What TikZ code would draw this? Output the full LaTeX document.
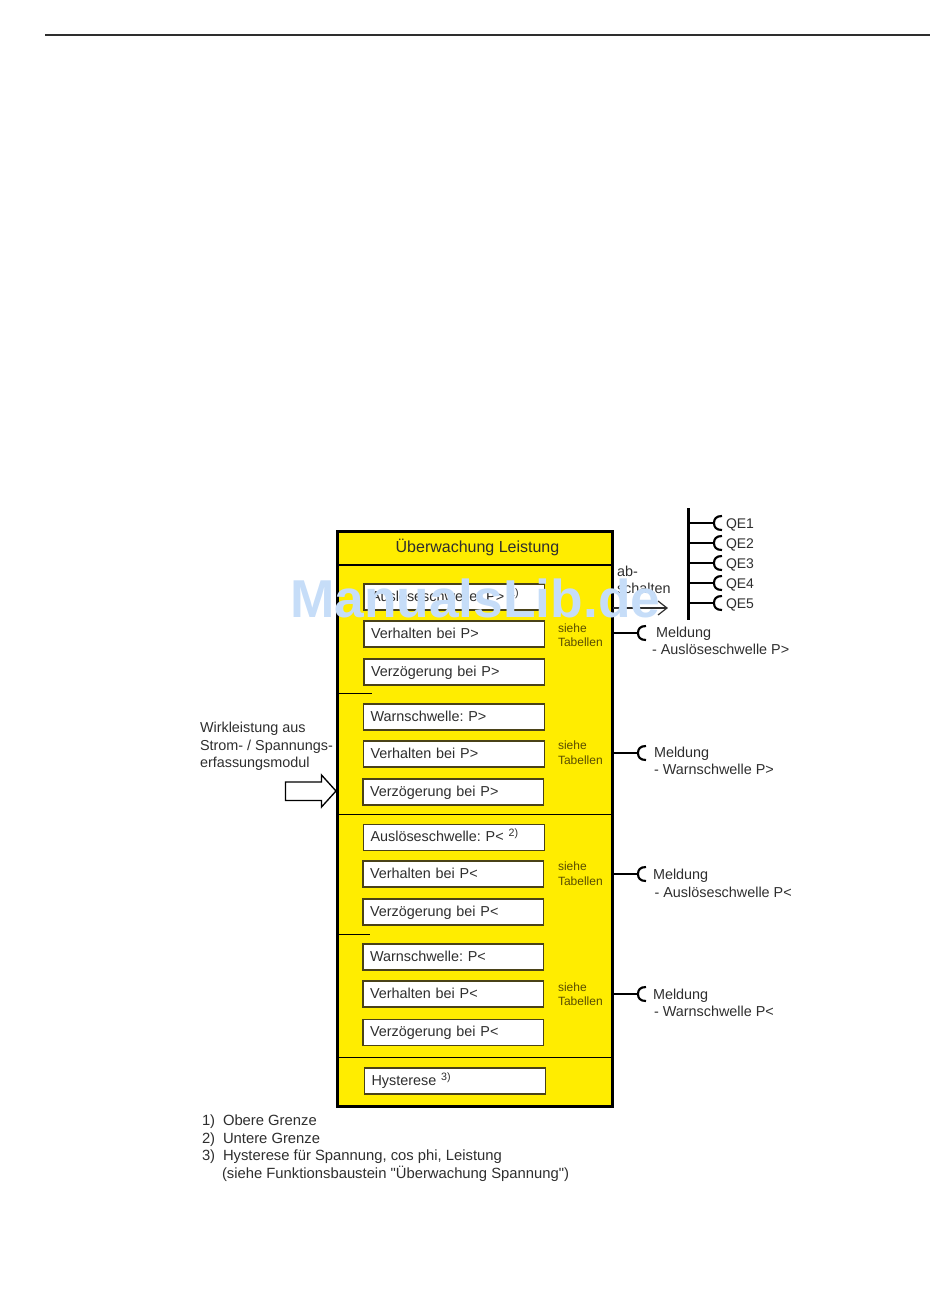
\documentclass[tikz,border=0pt]{standalone}
\usepackage{fontspec}
\setmainfont{Liberation Sans}[Ligatures=TeXOff]
\usetikzlibrary{calc}
\definecolor{ylw}{HTML}{FFED00}
\definecolor{txt}{HTML}{2E2E2E}
\definecolor{ytxt}{HTML}{5A4E00}
\definecolor{wm}{HTML}{C6DDF8}
\definecolor{edge}{HTML}{4A4218}
\newcommand\supn[1]{\raisebox{0.65ex}{\fontsize{8}{9}\selectfont #1}}
\frenchspacing
\tikzset{
  x=0.75pt,y=-0.75pt,
  every node/.style={outer sep=0pt},
  lab/.style={anchor=base west,inner sep=0pt,text=txt,font=\fontsize{10.8}{12}\selectfont},
  note/.style={lab,font=\fontsize{11.1}{12}\selectfont},
  sieh/.style={anchor=base west,inner sep=0pt,text=ytxt,font=\fontsize{9}{10}\selectfont},
  fieldbox/.style={anchor=north west,draw=edge,line width=1pt,fill=white,text=txt,
    minimum height=19.5pt,text width=125pt,inner xsep=5.25pt,inner ysep=0pt,
    text height=8.5pt,text depth=2.5pt,
    font=\fontsize{10.8}{12}\selectfont},
  wire/.style={draw=black,line width=1.8pt},
  thinrule/.style={draw=black,line width=0.8pt},
  plug/.pic={\draw[black,line width=1.6pt] (8,-7) .. controls (2,-7) and (0,-4) .. (0,0) .. controls (0,4) and (2,7) .. (8,7);}
}
\begin{document}
\begin{tikzpicture}
\useasboundingbox (0,0) rectangle (950,1302);
\coordinate (ruleL) at (45,35);
\coordinate (ruleR) at (930,35);
\draw[draw=txt,line width=0.8pt] (ruleL) -- (ruleR);

% main block
\node[anchor=north west,draw=black,line width=2.2pt,fill=ylw,minimum width=206.25pt,minimum height=431.25pt,inner sep=0pt] (outer) at (337.5,531.5) {};
\node[anchor=base,inner sep=0pt,text=txt,font=\fontsize{12}{14}\selectfont] (title) at (477.5,552) {Überwachung Leistung};
\coordinate (h1) at (337,565);
\draw[black,line width=2pt] (h1) -- (outer.east|-h1);
\coordinate (d1) at (372,693.5);
\draw[thinrule] (outer.west|-d1) -- (d1);
\coordinate (d2) at (337,814.5);
\draw[thinrule] (d2) -- (outer.east|-d2);
\coordinate (d3) at (370,934.5);
\draw[thinrule] (outer.west|-d3) -- (d3);
\coordinate (d4) at (337,1057.5);
\draw[thinrule] (d4) -- (outer.east|-d4);

% fields
\node[fieldbox] (b1) at (364,584) {Auslöseschwelle: P> \supn{1)}};
\node[fieldbox] (b2) at (364,621) {Verhalten bei P>};
\node[fieldbox] (b3) at (364,659) {Verzögerung bei P>};
\node[fieldbox] (b4) at (363.5,704) {Warnschwelle: P>};
\node[fieldbox] (b5) at (363.5,741) {Verhalten bei P>};
\node[fieldbox] (b6) at (363,779) {Verzögerung bei P>};
\node[fieldbox] (b7) at (363.5,824.5) {Auslöseschwelle: P< \supn{2)}};
\node[fieldbox] (b8) at (363,861) {Verhalten bei P<};
\node[fieldbox] (b9) at (363,899) {Verzögerung bei P<};
\node[fieldbox] (b10) at (363,944) {Warnschwelle: P<};
\node[fieldbox] (b11) at (363,981) {Verhalten bei P<};
\node[fieldbox] (b12) at (363,1019.5) {Verzögerung bei P<};
\node[fieldbox] (b13) at (364.5,1068) {Hysterese \supn{3)}};

% siehe Tabellen
\node[sieh] (s1a) at (558,632) {siehe};
\node[sieh] (s1b) at (558,646) {Tabellen};
\node[sieh] (s2a) at (558,749) {siehe};
\node[sieh] (s2b) at (558,764) {Tabellen};
\node[sieh] (s3a) at (558,870) {siehe};
\node[sieh] (s3b) at (558,885) {Tabellen};
\node[sieh] (s4a) at (558,991) {siehe};
\node[sieh] (s4b) at (558,1005) {Tabellen};

% abschalten
\node[lab] (ab1) at (617,576) {ab-};
\node[lab] (ab2) at (617,593) {schalten};
\coordinate (abtip) at (667,608);
\draw[draw=txt,line width=0.9pt] (outer.east|-abtip) -- (abtip);
\draw[draw=txt,line width=0.9pt] ($(abtip)+(-9,-7)$) -- (abtip) -- ($(abtip)+(-9,7)$);

% bus
\coordinate (busT) at (688.5,508);
\coordinate (busB) at (688.5,620);
\draw[black,line width=2.2pt] (busT) -- (busB);
\foreach \i/\yy in {1/523,2/543,3/563,4/583,5/603}{
  \coordinate (q\i) at (714,\yy);
  \draw[wire] (busT|-q\i) -- (q\i);
  \pic at (q\i) {plug};
  \node[lab,font=\fontsize{10.5}{12}\selectfont] (qe\i) at (726,\yy+5) {QE\i};
}

% Meldung
\coordinate (m1) at (638,633);
\coordinate (m2) at (638,753);
\coordinate (m3) at (638,874);
\coordinate (m4) at (638,994);
\foreach \i in {1,2,3,4}{
  \draw[black,line width=1.3pt] (outer.east|-m\i) -- (m\i);
  \pic at (m\i) {plug};
}
\node[lab] (m1a) at (656,637) {Meldung};
\node[lab] (m1b) at (652,654) {- Auslöseschwelle P>};
\node[lab] (m2a) at (654,757) {Meldung};
\node[lab] (m2b) at (654,774) {- Warnschwelle P>};
\node[lab] (m3a) at (653,879) {Meldung};
\node[lab] (m3b) at (654.5,897) {- Auslöseschwelle P<};
\node[lab] (m4a) at (653,999) {Meldung};
\node[lab] (m4b) at (654,1016) {- Warnschwelle P<};

% input
\node[lab] (in1) at (200,732) {Wirkleistung aus};
\node[lab] (in2) at (200,750) {Strom- / Spannungs-};
\node[lab] (in3) at (200,767) {erfassungsmodul};
\draw[black,line width=1pt,fill=white] (285.5,782) -- (321.5,782) -- (321.5,775) -- (336,791) -- (321.5,807) -- (321.5,800.5) -- (285.5,800.5) -- cycle;

% notes
\node[note] (n1a) at (202,1125) {1)};
\node[note] (n1b) at (223,1125) {Obere Grenze};
\node[note] (n2a) at (202,1143) {2)};
\node[note] (n2b) at (223,1143) {Untere Grenze};
\node[note] (n3a) at (202,1160) {3)};
\node[note] (n3b) at (223,1160) {Hysterese für Spannung, cos phi, Leistung};
\node[note] (n4b) at (222,1178) {(siehe Funktionsbaustein "Überwachung Spannung")};

% watermark
\node[anchor=base west,inner sep=0pt,text=wm,font=\fontsize{40}{44}\selectfont\bfseries] (mark) at (290,617) {ManualsLib.de};
\end{tikzpicture}
\end{document}
